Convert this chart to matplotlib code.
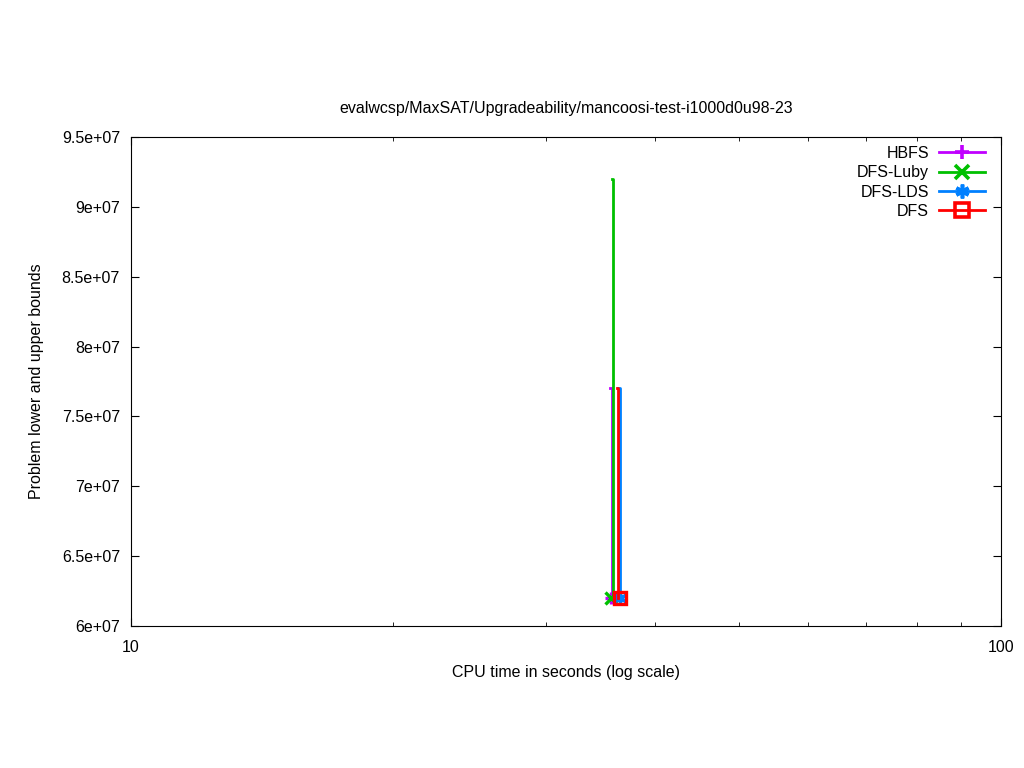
import matplotlib
matplotlib.use("Agg")
import matplotlib.pyplot as plt
from matplotlib.ticker import NullFormatter, LogLocator

plt.rcParams['font.family'] = ['Liberation Sans', 'DejaVu Sans']

title = "evalwcsp/MaxSAT/Upgradeability/mancoosi-test-i1000d0u98-23"
series_names = ["HBFS", "DFS-Luby", "DFS-LDS", "DFS"]
colors = ["#c000ff", "#00c000", "#0080ff", "#ff0000"]
markers = ["+", "x", (6, 2, 0), "s"]

# upper bound step curves (time, value)
ub_times = {
    "HBFS": [35.55, 35.72, 35.72],
    "DFS-Luby": [35.75, 35.85, 35.85],
    "DFS-LDS": [36.3, 36.5, 36.5],
    "DFS": [36.15, 36.28, 36.28],
}
ub_values = {
    "HBFS": [7.7e7, 7.7e7, 6.2e7],
    "DFS-Luby": [9.2e7, 9.2e7, 6.2e7],
    "DFS-LDS": [7.7e7, 7.7e7, 6.2e7],
    "DFS": [7.7e7, 7.7e7, 6.2e7],
}
# lower bound points
lb_times = {"HBFS": 35.65, "DFS-Luby": 35.65, "DFS-LDS": 36.45, "DFS": 36.45}
lb_values = {"HBFS": 6.2e7, "DFS-Luby": 6.2e7, "DFS-LDS": 6.2e7, "DFS": 6.2e7}

yticks = [6e7, 6.5e7, 7e7, 7.5e7, 8e7, 8.5e7, 9e7, 9.5e7]
ytick_labels = ["6e+07", "6.5e+07", "7e+07", "7.5e+07", "8e+07", "8.5e+07", "9e+07", "9.5e+07"]

FS = 11.5
fig = plt.figure(figsize=(10.24, 7.68), dpi=100)
ax = fig.add_axes([131/1024, 1-626/768, 870/1024, 489/768])

for name, c, m in zip(series_names, colors, markers):
    ax.plot(ub_times[name], ub_values[name], color=c, lw=2.0)
    ax.plot([lb_times[name]], [lb_values[name]], linestyle="none", marker=m,
            color=c, ms=9, mew=2.4, mfc="none")
    ax.plot([], [], color=c, lw=2.0, marker=m, ms=10, mew=2.6, mfc="none", label=name)

ax.set_xscale("log")
ax.set_xlim(10, 100)
ax.set_ylim(6e7, 9.5e7)
ax.set_xticks([10, 100])
ax.set_xticklabels(["10", "100"])
ax.xaxis.set_minor_locator(LogLocator(base=10, subs=range(2, 10)))
ax.xaxis.set_minor_formatter(NullFormatter())
ax.set_yticks(yticks)
ax.set_yticklabels(ytick_labels)

ax.tick_params(which="both", direction="in", top=True, right=True, labelsize=FS)
ax.tick_params(which="major", length=6)
ax.tick_params(axis="x", which="major", pad=10)
ax.tick_params(axis="y", which="major", pad=8)
ax.tick_params(which="minor", length=3)

ax.set_title(title, fontsize=FS, pad=17)
ax.set_xlabel("CPU time in seconds (log scale)", fontsize=FS, labelpad=7)
ax.set_ylabel("Problem lower and upper bounds", fontsize=FS, labelpad=13)

ax.legend(loc="upper right", bbox_to_anchor=(985/1024, 1-146/768),
          bbox_transform=fig.transFigure, frameon=False, markerfirst=False,
          handlelength=2.9, fontsize=FS, borderaxespad=0, borderpad=0,
          labelspacing=0.27, handletextpad=0.6)

fig.savefig("out.png", dpi=100)
